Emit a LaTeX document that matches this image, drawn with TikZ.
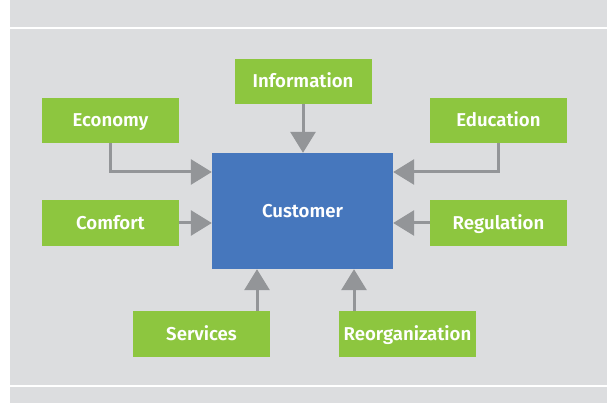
\documentclass[tikz,border=0pt]{standalone}
\usepackage{fontspec}
\setmainfont{Fira Sans}[UprightFont={* SemiBold}]
\usetikzlibrary{arrows.meta}
\definecolor{bggray}{HTML}{DCDDDF}
\definecolor{boxgreen}{HTML}{8DC63F}
\definecolor{custblue}{HTML}{4677BD}
\definecolor{arrgray}{HTML}{939598}
\tikzset{
  gbox/.style={fill=boxgreen, draw=none, minimum width=137pt, minimum height=45.5pt, inner sep=0pt, text=white, text height=12.6pt, text depth=0pt, font=\fontsize{18.6}{20}\selectfont},
  cbox/.style={fill=custblue, draw=none, minimum width=181pt, minimum height=116pt, inner sep=0pt, text=white, text height=12.6pt, text depth=0pt, font=\fontsize{18.6}{20}\selectfont},
  conn/.style={draw=arrgray, line width=3pt, -{Triangle[length=21pt,width=25pt]}},
}
\begin{document}
\begin{tikzpicture}[x=1pt,y=-1pt]
\useasboundingbox (0,0) rectangle (607,403);
\fill[white] (0,0) rectangle (607,403);
\fill[bggray] (10,0) rectangle (607,403);
\fill[white] (10,27.5) rectangle (607,29.5);
\fill[white] (10,384.5) rectangle (607,386.5);
\node[cbox] (cust) at (302.5,211) {Customer};
\node[gbox] (info) at (303,81.5) {Information};
\node[gbox] (eco) at (110.5,120.5) {Economy};
\node[gbox] (com) at (110.5,223) {Comfort};
\node[gbox] (edu) at (498.5,120.5) {Education};
\node[gbox] (reg) at (498.5,223) {Regulation};
\node[gbox] (serv) at (201.5,334) {Services};
\node[gbox] (reor) at (407.5,334) {Reorganization};
\draw[conn] (info.south) -- (info.south |- cust.north);
\draw[conn] (eco.south) |- ([yshift=39pt]cust.west);
\draw[conn] (edu.south) |- ([yshift=39pt]cust.east);
\draw[conn] (com.east) -- (com.east -| cust.west);
\draw[conn] (reg.west) -- (reg.west -| cust.east);
\draw[conn] ([xshift=55.5pt]serv.north) -- ([xshift=55.5pt]serv.north |- cust.south);
\draw[conn] ([xshift=-53.5pt]reor.north) -- ([xshift=-53.5pt]reor.north |- cust.south);
\end{tikzpicture}
\end{document}
